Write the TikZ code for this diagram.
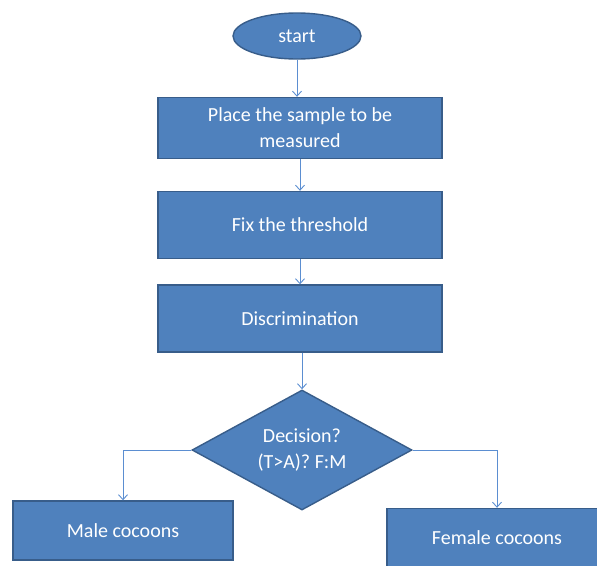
\documentclass[tikz,border=0pt]{standalone}
\usepackage{fontspec}
\setmainfont{Carlito}
\usetikzlibrary{shapes.geometric,arrows.meta}
\definecolor{fillblue}{HTML}{4F81BD}
\definecolor{edgeblue}{HTML}{385D8A}
\definecolor{linkblue}{HTML}{5B8ED1}
\tikzset{
  x=1pt,y=-1pt,
  shapebase/.style={fill=fillblue,draw=edgeblue,line width=1.4pt,text=white,font=\fontsize{20}{26}\selectfont,align=center,inner sep=0pt},
  stepbox/.style={shapebase,rectangle,minimum width=284pt,minimum height=61pt},
  endbox/.style={shapebase,rectangle,minimum width=220pt,minimum height=59pt},
  startell/.style={shapebase,ellipse,minimum width=128pt,minimum height=46pt},
  decide/.style={shapebase,diamond,minimum width=220pt,minimum height=120pt,aspect=1.83},
  link/.style={draw=linkblue,line width=0.9pt,-{Straight Barb[length=5pt,width=9pt]}}
}
\begin{document}
\begin{tikzpicture}
\useasboundingbox (0,0) rectangle (597,565);
\begin{scope}
\clip (0,0) rectangle (597,565);
\node[startell] (start) at (297,36) {start};
\node[stepbox] (place) at (300,128) {Place the sample to be\\measured};
\node[stepbox,minimum height=67pt] (fix) at (300,225) {Fix the threshold};
\node[stepbox,minimum height=67pt] (disc) at (300,318.5) {Discrimination};
\node[decide] (dec) at (302,450) {Decision?\\(T>A)? F:M};
\node[endbox] (male) at (123,530.5) {Male cocoons};
\node[endbox] (female) at (497,538) {Female cocoons};
\draw[link] (start.south) -- (start.south |- place.north);
\draw[link] (place.south) -- (place.south |- fix.north);
\draw[link] (fix.south) -- (fix.south |- disc.north);
\draw[link] (disc.south -| dec.north) -- (dec.north);
\draw[link] (dec.west) -| (male.north);
\draw[link] (dec.east) -| (female.north);
\end{scope}
\end{tikzpicture}
\end{document}
